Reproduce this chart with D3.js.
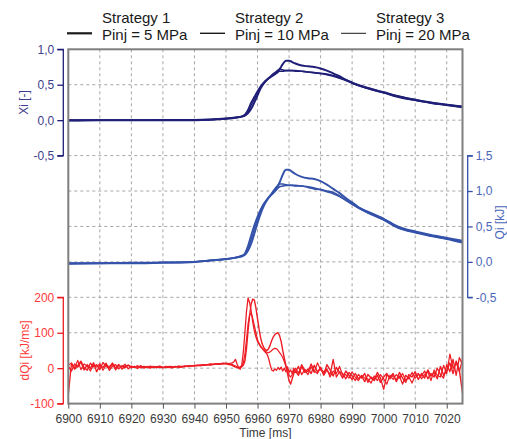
<!DOCTYPE html>
<html><head><meta charset="utf-8">
<script src="https://cdn.jsdelivr.net/npm/d3@7"></script>
<style>body{margin:0;background:#fff} svg{font-family:"Liberation Sans",Arial,sans-serif;display:block}</style>
</head><body><svg id="c" width="507" height="439"></svg>
<script>
// ---------- data ----------
const strategies = ["Strategy 1","Strategy 2","Strategy 3"];
const pinjLabels = ["Pinj = 5 MPa","Pinj = 10 MPa","Pinj = 20 MPa"];
const xTicks = [6900,6910,6920,6930,6940,6950,6960,6970,6980,6990,7000,7010,7020];
const xiTicks = [1.0,0.5,0.0,-0.5];
const qiTicks = [1.5,1.0,0.5,0.0,-0.5];
const dqTicks = [200,100,0,-100];

// smooth curves (Xi, Qi)
const tSmooth = [6900,6910,6920,6930,6940,6945,6950,6953,6955,6956,6957,6958,6959,6960,6961,6962,6963,6964,6965,6966,6967,6968,6969,6970,6971,6972,6974,6976,6978,6980,6982,6984,6986,6988,6990,6992,6995,7000,7005,7010,7015,7020,7025];
const xi1 = [0.00,0.00,0.00,0.00,0.00,0.005,0.02,0.035,0.05,0.065,0.10,0.16,0.25,0.35,0.45,0.52,0.57,0.61,0.65,0.67,0.72,0.79,0.84,0.84,0.82,0.80,0.77,0.76,0.75,0.73,0.70,0.66,0.62,0.57,0.53,0.49,0.45,0.39,0.33,0.285,0.245,0.215,0.19];
const xi2 = [0.00,0.00,0.00,0.005,0.005,0.01,0.025,0.04,0.055,0.08,0.15,0.25,0.33,0.41,0.48,0.53,0.57,0.60,0.63,0.66,0.69,0.69,0.70,0.70,0.70,0.70,0.69,0.68,0.67,0.66,0.65,0.63,0.60,0.57,0.53,0.50,0.455,0.395,0.335,0.29,0.25,0.22,0.195];
const xi3 = [-0.01,0.00,0.00,0.00,0.00,0.005,0.02,0.035,0.05,0.07,0.12,0.21,0.30,0.39,0.47,0.53,0.57,0.61,0.65,0.69,0.72,0.71,0.70,0.70,0.70,0.69,0.69,0.68,0.67,0.66,0.64,0.62,0.59,0.56,0.52,0.49,0.445,0.385,0.32,0.28,0.24,0.21,0.18];
const qi1 = [-0.02,-0.02,-0.02,-0.01,0.00,0.02,0.04,0.06,0.08,0.10,0.16,0.26,0.40,0.55,0.68,0.79,0.87,0.93,0.98,1.03,1.12,1.23,1.30,1.30,1.27,1.24,1.20,1.18,1.17,1.14,1.09,1.03,0.97,0.90,0.84,0.77,0.70,0.60,0.48,0.42,0.37,0.33,0.28];
const qi2 = [-0.02,-0.02,-0.01,-0.01,0.00,0.02,0.04,0.06,0.08,0.12,0.23,0.38,0.52,0.64,0.74,0.82,0.88,0.93,0.97,1.02,1.06,1.07,1.08,1.08,1.08,1.08,1.07,1.06,1.04,1.02,1.00,0.98,0.93,0.87,0.82,0.77,0.71,0.61,0.49,0.43,0.38,0.34,0.30];
const qi3 = [-0.03,-0.02,-0.02,-0.01,0.00,0.02,0.04,0.06,0.09,0.11,0.19,0.32,0.47,0.61,0.73,0.82,0.88,0.94,1.00,1.06,1.10,1.10,1.09,1.08,1.08,1.07,1.07,1.05,1.03,1.02,0.99,0.96,0.92,0.87,0.81,0.76,0.69,0.59,0.47,0.41,0.36,0.32,0.27];

// heat release rate (noisy)
const tRate = [].concat(d3.range(6900,6952,1), d3.range(6952,6972,0.5), d3.range(6972,7026,1));
const dq1 = [
 5,-8,12,3,18,-5,10,0,15,-10,
 8,2,14,-6,6,10,-2,7,1,9,
 3,5,-1,6,2,4,0,5,2,3,
 1,4,2,3,5,2,4,6,5,7,
 6,8,7,9,10,9,11,12,11,13,
 12,10,
 8,5,3,2,0,2,4,8,20,55,
 105,150,182,195,192,170,140,110,85,68,
 58,52,50,55,65,78,88,95,98,100,
 92,75,50,28,8,-15,-35,-45,-30,-15,
 -8,-20,5,-12,-2,-15,8,-10,0,-18,
 10,-5,-22,2,-12,-28,-8,-20,-32,-15,
 -30,-22,-38,-18,-28,-35,-20,-40,-25,-15,
 -30,-20,-35,-12,-28,-40,-18,-25,-10,-32,
 -15,-28,-5,-22,-12,-30,5,-20,-8,15,
 -15,20,-5,-70];
const dq2 = [
 -75,12,-3,8,20,2,-6,14,4,10,
 -4,16,5,0,12,-5,8,3,11,-2,
 6,2,7,1,5,3,6,2,4,5,
 3,2,5,4,3,6,5,4,7,6,
 8,7,9,8,10,11,10,12,13,12,
 14,13,
 15,18,25,12,2,-3,10,45,100,160,
 198,185,160,130,105,88,75,68,60,55,
 50,45,40,28,10,-5,-8,-2,-6,2,
 -4,3,-8,0,-10,4,-12,-5,-15,0,
 -12,5,-18,-4,-10,12,-8,-15,3,-20,
 -5,-18,25,-25,-10,-15,-30,-12,-22,-35,
 -18,-28,-15,-40,-25,-32,-12,-28,-60,-20,
 -25,-15,-38,-22,-45,-20,-30,-12,-28,-18,
 -22,-8,-30,-15,-25,0,-18,-28,10,-10,
 25,-20,30,10];
const dq3 = [
 8,15,0,22,-4,12,6,-8,10,3,
 13,-6,9,4,15,0,11,-3,6,8,
 1,4,3,7,0,5,2,4,1,6,
 2,5,3,1,4,5,3,6,4,7,
 7,9,8,10,9,12,11,13,12,14,
 13,12,
 10,8,6,4,3,4,6,15,40,80,
 125,150,156,140,120,100,80,70,62,56,
 52,48,45,44,46,50,54,56,55,50,
 44,38,30,18,5,-8,-20,-25,-18,-8,
 0,-14,10,-6,-18,4,-12,15,-5,-10,
 -2,-25,-8,-15,5,-20,-18,-28,-10,-25,
 -35,-20,-28,-30,-42,-22,-35,-18,-30,-45,
 -20,-32,-18,-28,-15,-35,-25,-42,-20,-15,
 -30,-18,-10,-35,-5,-20,-25,8,-15,40,
 0,15,-10,25];

// ---------- layout ----------
const svg = d3.select("#c");
const L = 68.3, R = 462.5, T = 49.3, B = 403.6;
const U = (B - T) / 10;
const x = d3.scaleLinear().domain([6900, 7025]).range([L, R]);
const yXi = d3.scaleLinear().domain([1.0, -0.5]).range([T, T + 3*U]);
const yQi = d3.scaleLinear().domain([1.5, -0.5]).range([T + 3*U, T + 7*U]);
const yDq = d3.scaleLinear().domain([200, -100]).range([T + 7*U, T + 10*U]);

const cXi = "#1f1f78", cXiT = "#3e3e8e";
const cQi = "#3452aa", cQiT = "#4a66b8";
const cDq = "#ee1c24", cDqT = "#ff3b3b";
const fmt1 = v => (v < 0 ? "-" : "") + Math.abs(v).toFixed(1).replace(".", ",");

// grid
const g = svg.append("g");
const gridCol = "#a6a6a6";
g.selectAll("line.v").data(xTicks.filter(d => d > 6900)).enter().append("line")
  .attr("x1", d => x(d)).attr("x2", d => x(d)).attr("y1", T).attr("y2", B)
  .attr("stroke", gridCol).attr("stroke-width", 1).attr("stroke-dasharray", "3,3");
const hVals = [].concat(xiTicks.slice(1).map(yXi), qiTicks.slice(1).map(yQi), dqTicks.slice(1, 3).map(yDq));
g.selectAll("line.h").data(hVals).enter().append("line")
  .attr("x1", L).attr("x2", R).attr("y1", d => d).attr("y2", d => d)
  .attr("stroke", gridCol).attr("stroke-width", 1).attr("stroke-dasharray", "3,3");

// clip
svg.append("clipPath").attr("id", "pc").append("rect").attr("x", L).attr("y", T).attr("width", R - L).attr("height", B - T);
const plot = svg.append("g").attr("clip-path", "url(#pc)");

function drawSet(times, series, yS, color, curve, widths) {
  const line = d3.line().x((d, i) => x(times[i])).y(d => yS(d)).curve(curve);
  series.forEach((s, k) => {
    plot.append("path").datum(s).attr("d", line).attr("fill", "none")
      .attr("stroke", color).attr("stroke-width", widths[k]).attr("stroke-linejoin", "round");
  });
}
drawSet(tSmooth, [xi1, xi2, xi3], yXi, cXi, d3.curveMonotoneX, [2.0, 1.7, 1.5]);
drawSet(tSmooth, [qi1, qi2, qi3], yQi, cQi, d3.curveMonotoneX, [2.0, 1.7, 1.5]);
drawSet(tRate, [dq1, dq2, dq3], yDq, cDq, d3.curveLinear, [1.4, 1.3, 1.2]);

// frame
svg.append("rect").attr("x", L).attr("y", T).attr("width", R - L).attr("height", B - T)
  .attr("fill", "none").attr("stroke", "#7f7f7f").attr("stroke-width", 2);

// left axes
const axX = 63.3;
function leftAxis(scale, ticks, fmt, col, tcol) {
  const a = svg.append("g").attr("transform", `translate(${axX},0)`)
    .call(d3.axisLeft(scale).tickValues(ticks).tickFormat(fmt).tickSize(6).tickPadding(3));
  a.select(".domain").attr("stroke", col).attr("stroke-width", 1.3).attr("d", `M-6,${scale(ticks[0])}H0V${scale(ticks[ticks.length-1])}H-6`);
  a.selectAll(".tick line").attr("stroke", col).attr("stroke-width", 1.3);
  a.selectAll(".tick text").attr("fill", tcol).attr("font-size", 12).attr("font-family", "Liberation Sans, Arial, sans-serif");
}
leftAxis(yXi, xiTicks, fmt1, cXi, cXiT);
leftAxis(yDq, dqTicks, d => d3.format("d")(d).replace("−", "-"), cDq, cDqT);

// right axis
const rx = 467.7;
const ra = svg.append("g").attr("transform", `translate(${rx},0)`)
  .call(d3.axisRight(yQi).tickValues(qiTicks).tickFormat(fmt1).tickSize(5).tickPadding(3));
ra.select(".domain").attr("stroke", cQi).attr("stroke-width", 1.3).attr("d", `M5,${yQi(1.5)}H0V${yQi(-0.5)}H5`);
ra.selectAll(".tick line").attr("stroke", cQi).attr("stroke-width", 1.3);
ra.selectAll(".tick text").attr("fill", cQiT).attr("font-size", 12).attr("font-family", "Liberation Sans, Arial, sans-serif");

// bottom axis
const ba = svg.append("g").attr("transform", `translate(0,${B})`)
  .call(d3.axisBottom(x).tickValues(xTicks).tickFormat(d3.format("d")).tickSize(5).tickPadding(6));
ba.select(".domain").remove();
ba.selectAll(".tick line").attr("stroke", "#555");
ba.selectAll(".tick text").attr("fill", "#3a3a3a").attr("font-size", 12).attr("font-family", "Liberation Sans, Arial, sans-serif");

// axis titles
svg.append("text").attr("transform", `translate(28,${(yXi(1) + yXi(-0.5)) / 2}) rotate(-90)`)
  .attr("text-anchor", "middle").attr("font-size", 12).attr("fill", cXiT).text("Xi [-]");
svg.append("text").attr("transform", `translate(29,${(yDq(200) + yDq(-100)) / 2}) rotate(-90)`)
  .attr("text-anchor", "middle").attr("font-size", 12).attr("fill", cDqT).text("dQi [kJ/ms]");
svg.append("text").attr("transform", `translate(504,${(yQi(1.5) + yQi(-0.5)) / 2 - 4}) rotate(-90)`)
  .attr("text-anchor", "middle").attr("font-size", 12).attr("fill", cQiT).text("Qi [kJ]");
svg.append("text").attr("x", (L + R) / 2).attr("y", 436.5).attr("text-anchor", "middle")
  .attr("font-size", 12).attr("fill", "#3a3a3a").text("Time [ms]");

// legend
const legX = [102, 235, 376];
const legW = [2.2, 1.4, 1.0];
strategies.forEach((s, i) => {
  svg.append("text").attr("x", legX[i]).attr("y", 22.8).attr("font-size", 15).attr("fill", "#1a1a1a").text(s);
  svg.append("text").attr("x", legX[i]).attr("y", 40).attr("font-size", 15).attr("fill", "#1a1a1a").text(pinjLabels[i]);
  svg.append("line").attr("x1", legX[i] - 35).attr("x2", legX[i] - 10).attr("y1", 33.3).attr("y2", 33.3)
    .attr("stroke", "#1a1a1a").attr("stroke-width", legW[i]);
});

if (tRate.length !== dq1.length || tRate.length !== dq2.length || tRate.length !== dq3.length) console.error("len", tRate.length, dq1.length, dq2.length, dq3.length);
if ([xi1,xi2,xi3,qi1,qi2,qi3].some(a => a.length !== tSmooth.length)) console.error("smooth len");
</script></body></html>
